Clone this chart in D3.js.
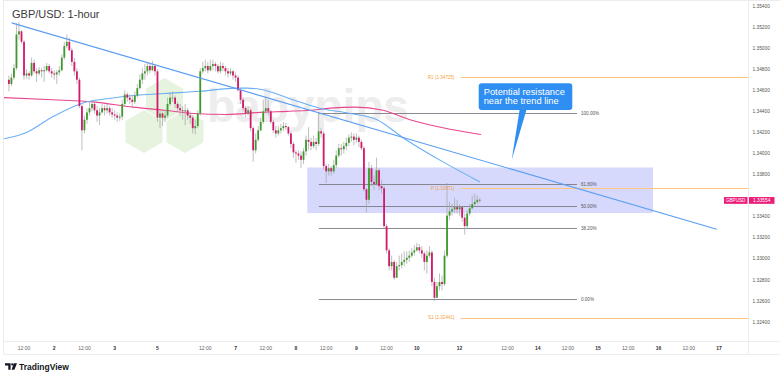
<!DOCTYPE html>
<html><head><meta charset="utf-8">
<script src="https://cdn.jsdelivr.net/npm/d3@7"></script>
<style>body{margin:0;background:#fff}svg{display:block}text{font-family:"Liberation Sans",Arial,sans-serif}</style>
</head><body><svg id="c" width="780" height="379"></svg>
<script>
// ---------- data ----------
const firstBarIndex = 6;          // hourly bar index (0 = Oct 1, 00:00; weekend hours skipped)
const firstOpen = 1.3470;
const closes = [
 1.3466,1.3472,1.3481,1.3513,1.3516,1.3506,1.3474,1.3476,1.3474,1.3486,
 1.3478,1.3476,1.3479,1.3478,1.3479,1.3483,1.3478,1.3476,1.3475,1.3477,
 1.3479,1.3491,1.3502,1.3506,1.3498,1.3487,1.3478,1.3470,1.3445,1.3422,
 1.3432,1.3439,1.3443,1.3447,1.3441,1.3436,1.3439,1.3443,1.3441,1.3443,
 1.3439,1.3437,1.3436,1.3434,1.3435,1.3447,1.3456,1.3453,1.3451,1.3449,
 1.3455,1.3462,1.3470,1.3476,1.3478,1.3483,1.3479,1.3483,1.3478,1.3434,
 1.3438,1.3434,1.3436,1.3447,1.3453,1.3453,1.3447,1.3443,1.3441,1.3440,
 1.3441,1.3436,1.3434,1.3424,1.3426,1.3438,1.3478,1.3481,1.3483,1.3479,
 1.3483,1.3485,1.3483,1.3478,1.3483,1.3481,1.3478,1.3476,1.3478,1.3474,
 1.3472,1.3460,1.3451,1.3443,1.3438,1.3441,1.3424,1.3403,1.3413,1.3422,
 1.3430,1.3440,1.3443,1.3440,1.3430,1.3422,1.3419,1.3422,1.3424,1.3426,
 1.3425,1.3419,1.3409,1.3401,1.3400,1.3398,1.3394,1.3402,1.3413,1.3411,
 1.3407,1.3411,1.3409,1.3421,1.3419,1.3388,1.3383,1.3386,1.3383,1.3389,
 1.3398,1.3405,1.3404,1.3407,1.3410,1.3415,1.3416,1.3413,1.3415,1.3411,
 1.3405,1.3366,1.3356,1.3386,1.3373,1.3371,1.3384,1.3369,1.3367,1.3331,
 1.3308,1.3293,1.3297,1.3282,1.3293,1.3294,1.3297,1.3299,1.3301,1.3303,
 1.3306,1.3308,1.3311,1.3308,1.3305,1.3297,1.3303,1.3306,1.3278,1.3263,
 1.3274,1.3278,1.3276,1.3303,1.3341,1.3345,1.3347,1.3349,1.3347,1.3349,
 1.3339,1.3331,1.3343,1.3348,1.3352,1.3354,1.3356,1.33554
];
const highs = [
 1.3474,1.3476,1.3485,1.3524,1.3525,1.3517,1.3508,1.3480,1.3478,1.3491,
 1.3489,1.3481,1.3482,1.3481,1.3483,1.3486,1.3485,1.3481,1.3479,1.3479,
 1.3483,1.3494,1.3506,1.3513,1.3510,1.3500,1.3491,1.3481,1.3472,1.3447,
 1.3436,1.3443,1.3449,1.3451,1.3449,1.3445,1.3443,1.3447,1.3446,1.3447,
 1.3445,1.3443,1.3441,1.3439,1.3438,1.3451,1.3460,1.3458,1.3456,1.3455,
 1.3459,1.3466,1.3475,1.3481,1.3485,1.3487,1.3486,1.3488,1.3485,1.3480,
 1.3441,1.3440,1.3441,1.3453,1.3458,1.3459,1.3455,1.3449,1.3447,1.3445,
 1.3447,1.3443,1.3440,1.3436,1.3432,1.3441,1.3481,1.3487,1.3489,1.3487,
 1.3489,1.3489,1.3487,1.3485,1.3487,1.3486,1.3483,1.3481,1.3481,1.3479,
 1.3477,1.3474,1.3462,1.3453,1.3445,1.3445,1.3443,1.3426,1.3419,1.3426,
 1.3434,1.3451,1.3454,1.3451,1.3441,1.3432,1.3426,1.3426,1.3428,1.3430,
 1.3429,1.3426,1.3421,1.3411,1.3403,1.3403,1.3402,1.3405,1.3417,1.3425,
 1.3415,1.3417,1.3415,1.3439,1.3424,1.3421,1.3390,1.3390,1.3388,1.3394,
 1.3403,1.3409,1.3409,1.3411,1.3415,1.3418,1.3420,1.3419,1.3419,1.3417,
 1.3413,1.3407,1.3367,1.3392,1.3389,1.3379,1.3396,1.3386,1.3375,1.3369,
 1.3333,1.3310,1.3303,1.3299,1.3297,1.3303,1.3305,1.3307,1.3307,1.3308,
 1.3310,1.3313,1.3315,1.3314,1.3312,1.3307,1.3308,1.3312,1.3308,1.3282,
 1.3278,1.3286,1.3284,1.3308,1.3372,1.3354,1.3352,1.3358,1.3356,1.3352,
 1.3350,1.3343,1.3346,1.3352,1.3360,1.3362,1.3360,1.3358
];
const lows = [
 1.3459,1.3464,1.3470,1.3479,1.3508,1.3504,1.3470,1.3471,1.3470,1.3473,
 1.3476,1.3468,1.3474,1.3472,1.3468,1.3478,1.3476,1.3472,1.3470,1.3466,
 1.3474,1.3478,1.3489,1.3500,1.3497,1.3483,1.3474,1.3466,1.3443,1.3403,
 1.3419,1.3428,1.3436,1.3440,1.3438,1.3430,1.3427,1.3438,1.3436,1.3438,
 1.3436,1.3434,1.3432,1.3430,1.3431,1.3432,1.3445,1.3449,1.3447,1.3443,
 1.3447,1.3453,1.3461,1.3466,1.3470,1.3474,1.3476,1.3478,1.3474,1.3430,
 1.3424,1.3426,1.3430,1.3434,1.3445,1.3449,1.3443,1.3440,1.3436,1.3432,
 1.3427,1.3432,1.3428,1.3419,1.3418,1.3424,1.3436,1.3476,1.3478,1.3476,
 1.3478,1.3479,1.3478,1.3476,1.3476,1.3478,1.3474,1.3472,1.3474,1.3470,
 1.3468,1.3459,1.3447,1.3440,1.3434,1.3436,1.3421,1.3392,1.3400,1.3411,
 1.3421,1.3428,1.3438,1.3436,1.3428,1.3419,1.3415,1.3417,1.3419,1.3421,
 1.3422,1.3417,1.3405,1.3396,1.3391,1.3394,1.3386,1.3390,1.3398,1.3403,
 1.3403,1.3405,1.3403,1.3407,1.3415,1.3385,1.3372,1.3379,1.3379,1.3381,
 1.3386,1.3396,1.3398,1.3400,1.3403,1.3407,1.3411,1.3408,1.3410,1.3406,
 1.3403,1.3364,1.3344,1.3352,1.3369,1.3365,1.3369,1.3365,1.3362,1.3329,
 1.3305,1.3289,1.3289,1.3280,1.3282,1.3289,1.3291,1.3293,1.3295,1.3297,
 1.3301,1.3303,1.3307,1.3305,1.3301,1.3289,1.3286,1.3301,1.3274,1.3260,
 1.3263,1.3270,1.3270,1.3274,1.3301,1.3337,1.3341,1.3343,1.3343,1.3341,
 1.3335,1.3323,1.3329,1.3341,1.3347,1.3350,1.3352,1.3353
];
const priceTicks = [1.354,1.352,1.350,1.348,1.346,1.344,1.342,1.340,1.338,1.334,1.332,1.330,1.328,1.326,1.324];
const timeTickIdx   = [12,24,36,48,65,84,96,108,120,132,144,156,168,185,204,216,228,240,252,264,276,288];
const timeTickLabel = ["12:00","2","12:00","3","5","12:00","7","12:00","8","12:00","9","12:00","10","12","12:00","14","12:00","15","12:00","16","12:00","17"];
const blueMAIdx   = [4,13,23.5,35.4,45,55.3,68,81.9,96.6,100.6,105.7,118.8,129.5,141.5,152.2,162.5,178.4,193.1];
const blueMAVal   = [1.3414,1.3420,1.3435,1.3448,1.3452,1.3455,1.3457,1.3459,1.3462,1.3462,1.3461,1.3451,1.3443,1.3438,1.3432,1.3415,1.3392,1.3373];
const pinkMAIdx   = [4,23.5,39.4,55.3,68,79,92.6,105.7,116.4,125.6,133.5,143.4,154.6,165.3,181.2,193.5];
const pinkMAVal   = [1.3453,1.3451,1.3449,1.3444,1.3441,1.3438,1.3437,1.3439,1.3440,1.3441,1.3443,1.3444,1.3441,1.3432,1.3423,1.3418];
const trendIdx = [7.1, 287.1];
const trendVal = [1.3524, 1.3328];
const fibValues = [1.34381, 1.33706, 1.33498, 1.33290, 1.32615];
const fibLabels = ["100.00%", "61.80%", "50.00%", "38.20%", "0.00%"];
const fibIdx = [129.1, 231.6];
const pivotNames  = ["R1", "P", "S1"];
const pivotValues = [1.34725, 1.33671, 1.32441];
const pivotStartIdx = 185.4;
const zoneIdx = [124.5, 261.8];
const zoneVal = [1.33867, 1.33434];
const lastPrice = 1.33554;
const symbol = "GBPUSD";
const calloutLines = ["Potential resistance", "near the trend line"];
const calloutTip = [205.7, 1.3394];

// ---------- layout ----------
const svg = d3.select("#c");
const W = 780, H = 379;
const plot = {left: 4, right: 748, top: 0, bottom: 341.5};
const x = d3.scaleLinear().domain([0, 300]).range([-6.2, 749.2]);
const y = d3.scaleLinear().domain([1.324, 1.354]).range([322, 6]);

svg.append("rect").attr("width", W).attr("height", H).attr("fill", "#fff");
svg.append("defs").append("clipPath").attr("id", "pc")
  .append("rect").attr("x", plot.left).attr("y", plot.top)
  .attr("width", plot.right - plot.left).attr("height", plot.bottom - plot.top);

// frame
const frame = svg.append("g").attr("stroke", "#ececec").attr("stroke-width", 1);
frame.append("line").attr("x1", 3.5).attr("x2", 3.5).attr("y1", 0).attr("y2", 354);
frame.append("line").attr("x1", 748.5).attr("x2", 748.5).attr("y1", 0).attr("y2", 354);
frame.append("line").attr("x1", 3.5).attr("x2", 780).attr("y1", 341.5).attr("y2", 341.5);
frame.append("line").attr("x1", 3.5).attr("x2", 780).attr("y1", 354.5).attr("y2", 354.5);
frame.append("line").attr("x1", 3.5).attr("x2", 780).attr("y1", 0.5).attr("y2", 0.5);

const g = svg.append("g").attr("clip-path", "url(#pc)");

// watermark
const wm = g.append("g");
const hexR = 21.4;
const hex = (cx, cy) => d3.range(6).map(k => {
  const a = Math.PI / 180 * (60 * k - 90);
  return [cx + hexR * Math.cos(a), cy + hexR * Math.sin(a)];
});
[[144, 131.6], [185, 131.6], [164.5, 99.5]].forEach(c => {
  wm.append("polygon").attr("points", hex(c[0], c[1]).join(" ")).attr("fill", "#e5f3df");
});
wm.append("text").attr("x", 207).attr("y", 122).text("babypips")
  .attr("font-family", "Lato, 'Open Sans', sans-serif").attr("font-weight", 900)
  .attr("font-size", 46).attr("fill", "#ededed");

// zone
g.append("rect").attr("x", x(zoneIdx[0])).attr("width", x(zoneIdx[1]) - x(zoneIdx[0]))
  .attr("y", y(zoneVal[0])).attr("height", y(zoneVal[1]) - y(zoneVal[0]))
  .attr("fill", "#d6d9fb");

// fib lines
fibValues.forEach((v, k) => {
  g.append("line").attr("x1", x(fibIdx[0])).attr("x2", x(fibIdx[1]))
    .attr("y1", Math.round(y(v)) + 0.5).attr("y2", Math.round(y(v)) + 0.5)
    .attr("stroke", "#7d7d86").attr("stroke-width", 0.9);
  g.append("text").attr("x", x(fibIdx[1]) + 4).attr("y", y(v)).attr("dy", "0.35em")
    .attr("font-size", 4.6).attr("fill", "#555").text(fibLabels[k]);
});

// pivots
pivotNames.forEach((n, k) => {
  const v = pivotValues[k];
  g.append("line").attr("x1", x(pivotStartIdx)).attr("x2", plot.right)
    .attr("y1", Math.round(y(v)) + 0.5).attr("y2", Math.round(y(v)) + 0.5)
    .attr("stroke", "#ffc680").attr("stroke-width", 1);
  g.append("text").attr("x", x(pivotStartIdx) - 6).attr("y", y(v)).attr("dy", "0.35em")
    .attr("text-anchor", "end").attr("font-size", 4.6).attr("fill", "#f5a040")
    .text(`${n} (${v.toFixed(5)})`);
});

// moving averages
const lineGen = d3.line().x(d => x(d[0])).y(d => y(d[1])).curve(d3.curveMonotoneX);
g.append("path").attr("d", lineGen(pinkMAIdx.map((d, k) => [d, pinkMAVal[k]])))
  .attr("fill", "none").attr("stroke", "#e8478f").attr("stroke-width", 1.1);
g.append("path").attr("d", lineGen(blueMAIdx.map((d, k) => [d, blueMAVal[k]])))
  .attr("fill", "none").attr("stroke", "#6aaff5").attr("stroke-width", 1.1);

// candles
const bars = closes.map((c, k) => {
  const o = k === 0 ? firstOpen : closes[k - 1];
  return {i: firstBarIndex + k, o, c, h: Math.max(highs[k], o, c), l: Math.min(lows[k], o, c)};
});
const cg = g.append("g");
cg.selectAll("line.w").data(bars).join("line")
  .attr("x1", d => x(d.i)).attr("x2", d => x(d.i))
  .attr("y1", d => y(d.h)).attr("y2", d => y(d.l))
  .attr("stroke", "#a3a3a3").attr("stroke-width", 0.7);
cg.selectAll("rect.b").data(bars).join("rect")
  .attr("x", d => x(d.i) - 0.9).attr("width", 1.8)
  .attr("y", d => y(Math.max(d.o, d.c)))
  .attr("height", d => Math.max(0.7, Math.abs(y(d.o) - y(d.c))))
  .attr("fill", d => d.c >= d.o ? "#3e9a2c" : "#d4186c");

// trend line
g.append("line").attr("x1", x(trendIdx[0])).attr("y1", y(trendVal[0]))
  .attr("x2", x(trendIdx[1])).attr("y2", y(trendVal[1]))
  .attr("stroke", "#5c9ef2").attr("stroke-width", 1.1);

// callout
const cb = {x: 478.7, y: 83.3, w: 93.6, h: 26.7};
const tip = [x(calloutTip[0]), y(calloutTip[1])];
svg.append("path").attr("d", `M${cb.x + 41},${cb.y + cb.h - 1} L${cb.x + 48},${cb.y + cb.h - 1} L${tip[0]},${tip[1]} Z`)
  .attr("fill", "#2f8ef2");
svg.append("rect").attr("x", cb.x).attr("y", cb.y).attr("width", cb.w).attr("height", cb.h)
  .attr("rx", 3).attr("fill", "#2f8ef2");
calloutLines.forEach((t, k) => {
  svg.append("text").attr("x", cb.x + 5).attr("y", cb.y + 11.5 + k * 9.3)
    .attr("font-size", 9.3).attr("fill", "#fff").text(t);
});

// price axis
svg.append("g").selectAll("text").data(priceTicks).join("text")
  .attr("x", 752.5).attr("y", d => y(d)).attr("dy", "0.35em")
  .attr("font-size", 4.8).attr("fill", "#555").text(d => d.toFixed(5));

// last price tag
const ly = y(lastPrice);
svg.append("rect").attr("x", 724).attr("y", ly - 3.4).attr("width", 23.5).attr("height", 6.8).attr("fill", "#ea1e79");
svg.append("rect").attr("x", 749).attr("y", ly - 3.4).attr("width", 25.5).attr("height", 6.8).attr("fill", "#ea1e79");
svg.append("text").attr("x", 735.7).attr("y", ly).attr("dy", "0.35em").attr("text-anchor", "middle")
  .attr("font-size", 4.6).attr("fill", "#fff").text(symbol);
svg.append("text").attr("x", 761.7).attr("y", ly).attr("dy", "0.35em").attr("text-anchor", "middle")
  .attr("font-size", 4.8).attr("fill", "#fff").text(lastPrice.toFixed(5));

// time axis
svg.append("g").selectAll("text").data(timeTickIdx).join("text")
  .attr("x", d => x(d)).attr("y", 348).attr("dy", "0.35em").attr("text-anchor", "middle")
  .attr("font-size", 5).attr("font-weight", (d, k) => timeTickLabel[k] === "12:00" ? 400 : 700)
  .attr("fill", (d, k) => timeTickLabel[k] === "12:00" ? "#666" : "#333")
  .text((d, k) => timeTickLabel[k]);

// title
svg.append("text").attr("x", 12).attr("y", 18).attr("font-size", 11).attr("fill", "#3a3a3a")
  .attr("font-family", "'Open Sans', sans-serif").text("GBP/USD: 1-hour");

// TradingView logo
const lg = svg.append("g").attr("fill", "#131722");
lg.append("path").attr("d", "M5,363.3 H10.6 V369.8 H8.3 V365.4 H5 Z");
lg.append("circle").attr("cx", 12.3).attr("cy", 364.4).attr("r", 1.15);
lg.append("path").attr("d", "M13.8,363.3 H17 L14.4,369.8 H11.6 Z");
svg.append("text").attr("x", 19).attr("y", 369.6).attr("font-size", 8.5).attr("font-weight", 700)
  .attr("fill", "#131722").text("TradingView");
</script></body></html>
